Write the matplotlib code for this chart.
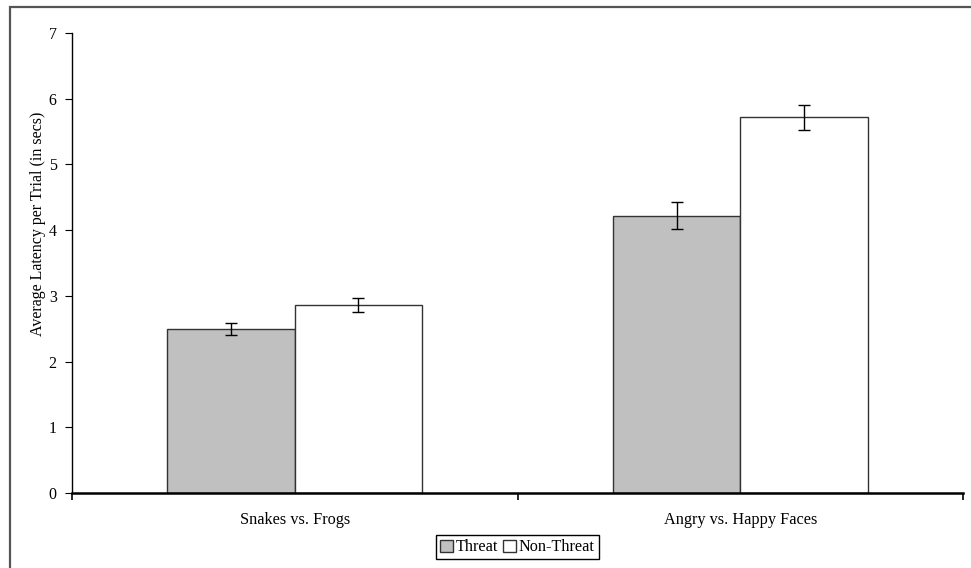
import numpy as np
import matplotlib.pyplot as plt
from matplotlib.patches import Rectangle

plt.rcParams['font.family'] = ['Liberation Serif', 'DejaVu Serif']

categories = ["Snakes vs. Frogs", "Angry vs. Happy Faces"]
threat = [2.50, 4.22]
threat_err = [0.09, 0.21]
nonthreat = [2.86, 5.72]
nonthreat_err = [0.11, 0.19]

fig = plt.figure(figsize=(9.71, 5.68), dpi=100)
ax = fig.add_axes([72/971, 75/568, (963-72)/971, 460/568])

# outer frame like the original figure border
fig.patches.append(Rectangle((10/971, -0.1), 1.2, 1.1 - 7/568, transform=fig.transFigure,
                             fill=False, edgecolor='#555555', linewidth=1.6))

x = np.arange(len(categories))
w = 0.286
ax.bar(x - w/2, threat, w, color='#c0c0c0', edgecolor='#333333', linewidth=1,
       label='Threat', yerr=threat_err, capsize=4,
       error_kw=dict(ecolor='black', elinewidth=1, capthick=1))
ax.bar(x + w/2, nonthreat, w, color='white', edgecolor='#333333', linewidth=1,
       label='Non-Threat', yerr=nonthreat_err, capsize=4,
       error_kw=dict(ecolor='black', elinewidth=1, capthick=1))

ax.set_xlim(-0.5, 1.5)
ax.set_ylim(0, 7)
ax.set_yticks(range(8))
ax.set_xticks(x)
ax.set_xticklabels(categories, fontsize=11.7)
ax.set_xticks([-0.5, 0.5, 1.5], minor=True)
ax.tick_params(axis='x', which='major', length=0, pad=14)
ax.tick_params(axis='x', which='minor', length=5, width=1.2)
ax.tick_params(axis='y', length=5, labelsize=11.5, pad=6)
ax.set_ylabel('Average Latency per Trial (in secs)', fontsize=11.5)
ax.yaxis.set_label_coords(-0.029, 0.585)

for s in ['top', 'right']:
    ax.spines[s].set_visible(False)
ax.spines['bottom'].set_linewidth(1.8)
ax.spines['left'].set_linewidth(1)

leg = ax.legend(loc='upper center', bbox_to_anchor=(0.5, -0.092), ncol=2, fontsize=11.7,
                handlelength=0.8, handleheight=0.8, handletextpad=0.15, columnspacing=0.3,
                borderpad=0.25, fancybox=False, edgecolor='black', framealpha=1,
                borderaxespad=0)
leg.get_frame().set_linewidth(1)

plt.savefig("out.png", dpi=100)
